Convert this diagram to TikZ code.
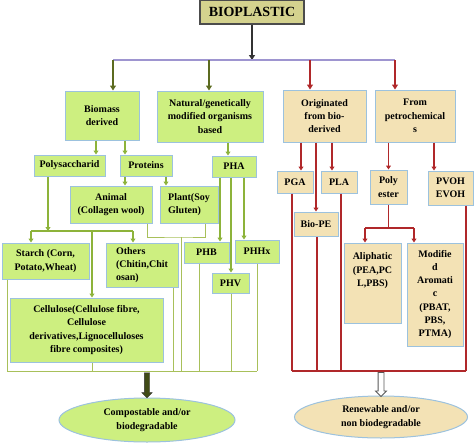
\documentclass[tikz,border=0pt]{standalone}
\usepackage{fontspec}
\setmainfont{Liberation Serif}
\usepackage{tikz}
\usetikzlibrary{arrows.meta,shapes.geometric,shapes.arrows}

\definecolor{boxgreen}{HTML}{CDEF80}
\definecolor{boxtan}{HTML}{F3E2B5}
\definecolor{boxedge}{HTML}{9CC2DE}
\definecolor{topfill}{HTML}{D4D28E}
\definecolor{linegreen}{HTML}{8DB33A}
\definecolor{lightolive}{HTML}{A8C05A}
\definecolor{darkolive}{HTML}{5C6B20}
\definecolor{linered}{HTML}{B0282A}
\definecolor{linepurple}{HTML}{9E95D0}

\begin{document}
\begin{tikzpicture}[x=1pt, y=-1pt,
	txt/.style={font=\bfseries\fontsize{10}{13.3}\selectfont, align=center},
	gbox/.style={txt, draw=boxedge, fill=boxgreen, line width=1pt, inner sep=1pt},
	tbox/.style={gbox, fill=boxtan},
	endshape/.style={txt, ellipse, draw=boxedge, line width=1pt, inner sep=0pt},
	gline/.style={linegreen, line width=1.1pt},
	lline/.style={lightolive, line width=0.9pt},
	rline/.style={linered, line width=1.1pt},
	garrow/.style={gline, -{Triangle[length=4pt,width=5pt]}},
	rarrow/.style={rline, -{Triangle[length=4pt,width=5pt]}},
	]
	\useasboundingbox (0,0) rectangle (474,442);

	% Nodes
	\node[txt, draw=black!70, fill=topfill, line width=1.2pt, minimum width=104pt, minimum height=24pt,
		font=\bfseries\fontsize{14}{16}\selectfont] (bio) at (252,12) {BIOPLASTIC};

	\node[gbox, minimum width=74pt, minimum height=49pt] (biomass) at (102,115.5) {Biomass\\derived};
	\node[gbox, minimum width=106pt, minimum height=51pt] (natural) at (210,116.5) {Natural/genetically\\modified organisms\\based};
	\node[tbox, minimum width=83pt, minimum height=52pt] (orig) at (324.5,116) {Originated\\from bio-\\derived};
	\node[tbox, minimum width=80pt, minimum height=52pt] (petro) at (415,116) {From\\petrochemical\\s};

	\node[gbox, minimum width=71pt, minimum height=21pt] (poly) at (69.5,165.5) {Polysaccharid};
	\node[gbox, minimum width=52pt, minimum height=21pt] (prot) at (146,165.5) {Proteins};
	\node[gbox, minimum width=44pt, minimum height=21pt] (pha) at (234,166.5) {PHA};
	\node[gbox, minimum width=82pt, minimum height=37pt] (animal) at (111,204.5) {Animal\\(Collagen wool)};
	\node[gbox, minimum width=58pt, minimum height=37pt, align=left] (plant) at (189,204.5) {Plant(Soy\\Gluten)};
	\node[gbox, minimum width=87pt, minimum height=36pt] (starch) at (45.5,261) {Starch (Corn,\\Potato,Wheat)};
	\node[gbox, minimum width=72pt, minimum height=44pt, align=left] (others) at (142,265) {Others\\(Chitin,Chit\\osan)};
	\node[gbox, minimum width=153pt, minimum height=64pt] (cell) at (86.5,330) {Cellulose(Cellulose fibre,\\Cellulose\\derivatives,Lignocelluloses\\fibre composites)};
	\node[gbox, minimum width=45pt, minimum height=21pt] (phb) at (206.5,252.5) {PHB};
	\node[gbox, minimum width=44pt, minimum height=23pt] (phhx) at (257,251.5) {PHHx};
	\node[gbox, minimum width=37pt, minimum height=20pt] (phv) at (230.5,283) {PHV};

	\node[tbox, minimum width=36pt, minimum height=22pt] (pga) at (295,182) {PGA};
	\node[tbox, minimum width=36pt, minimum height=22pt] (pla) at (339,182) {PLA};
	\node[tbox, minimum width=44pt, minimum height=24pt] (biope) at (316,224) {Bio-PE};
	\node[tbox, minimum width=37pt, minimum height=34pt] (polyester) at (388.5,187) {Poly\\ester};
	\node[tbox, minimum width=45pt, minimum height=34pt] (pvoh) at (450.5,188) {PVOH\\EVOH};
	\node[tbox, minimum width=57pt, minimum height=80pt] (aliph) at (372.5,283) {Aliphatic\\(PEA,PC\\L,PBS)\\\mbox{}\\\mbox{}};
	\node[tbox, minimum width=56pt, minimum height=103pt] (modar) at (435,294.5) {Modifie\\d\\Aromati\\c\\(PBAT,\\PBS,\\PTMA)};

	\node[endshape, fill=boxgreen, minimum width=176pt, minimum height=44pt] (ell1) at (147,420) {Compostable and/or\\biodegradable};
	\node[endshape, fill=boxtan, minimum width=173pt, minimum height=42pt] (ell2) at (381,417) {Renewable and/or\\non biodegradable};

	% Joints
	\coordinate (split) at (250,60);
	\coordinate (t1) at (113,60);
	\coordinate (t2) at (209,60);
	\coordinate (t3) at (310,60);
	\coordinate (t4) at (395,60);
	\coordinate (sl) at (31,231);
	\coordinate (sm) at (92,231);
	\coordinate (sr) at (133,231);
	\coordinate (ap) at (181,237);
	\coordinate (gl) at (7,371);
	\coordinate (gr) at (257,371);
	\coordinate (ql) at (365,228);
	\coordinate (qr) at (414,228);
	\coordinate (rl) at (292,371);
	\coordinate (rr) at (466,371);

	% Top level
	\draw[black!80, line width=1.2pt, -{Triangle[length=5pt,width=6pt]}] (bio.south) -- (bio.south |- split);
	\draw[linepurple, line width=1.2pt] (t1) -- (t4);
	\draw[darkolive, line width=1.1pt, -{Triangle[length=5pt,width=6pt]}] (t1) -- (t1 |- biomass.north);
	\draw[darkolive, line width=1.1pt, -{Triangle[length=5pt,width=6pt]}] (t2) -- (t2 |- natural.north);
	\draw[linered, line width=1.1pt, -{Triangle[length=5pt,width=6pt]}] (t3) -- (t3 |- orig.north);
	\draw[linered, line width=1.1pt, -{Triangle[length=5pt,width=6pt]}] (t4) -- (t4 |- petro.north);

	% Biomass side
	\draw[garrow] ([xshift=-6pt]biomass.south) -- ([xshift=-6pt]biomass.south |- poly.north);
	\draw[garrow] ([xshift=23pt]biomass.south) -- ([xshift=23pt]biomass.south |- prot.north);
	\draw[garrow] ([xshift=-6pt]pha.north |- natural.south) -- ([xshift=-6pt]pha.north);
	\draw[garrow] ([xshift=-21pt]prot.south) -- ([xshift=-21pt]prot.south |- animal.north);
	\draw[garrow] ([xshift=20pt]prot.south) -- ([xshift=20pt]prot.south |- plant.north);
	\draw[garrow] ([xshift=-21.5pt]poly.south) -- ([xshift=-21.5pt]poly.south |- sm);
	\draw[gline] (sl) -- (sr);
	\draw[garrow] (sl) -- (sl |- starch.north);
	\draw[garrow] (sm) -- (sm |- cell.north);
	\draw[garrow] (sr) -- (sr |- others.north);
	\draw[garrow] ([xshift=-14pt]pha.south) -- ([xshift=-14pt]pha.south |- phb.north);
	\draw[garrow] ([xshift=-3pt]pha.south) -- ([xshift=-3pt]pha.south |- phv.north);
	\draw[garrow] ([xshift=10pt]pha.south) -- ([xshift=10pt]pha.south |- phhx.north);

	\draw[lline] ([xshift=36pt]animal.south) |- (ap) -| ([xshift=16pt]plant.south);
	\draw[lline] (ap) -- (ap |- gl);
	\foreach \n/\dx in {starch/-38.5, cell/5.5, others/31, phb/-7.5, phv/0.5, phhx/0} {
		\draw[lline] ([xshift=\dx pt]\n.south) -- ([xshift=\dx pt]\n.south |- gl);
	}
	\draw[lline] (gl) -- (gr);

	% Petrochemical side
	\draw[rarrow] ([xshift=6pt]pga.north |- orig.south) -- ([xshift=6pt]pga.north);
	\draw[rarrow] (biope.north |- orig.south) -- (biope.north);
	\draw[rarrow] ([xshift=-7pt]pla.north |- orig.south) -- ([xshift=-7pt]pla.north);
	\draw[rarrow] (polyester.north |- petro.south) -- (polyester.north);
	\draw[rarrow] ([xshift=-16.5pt]pvoh.north |- petro.south) -- ([xshift=-16.5pt]pvoh.north);
	\draw[rline] (polyester.south) -- (polyester.south |- ql);
	\draw[rline] (ql) -- (qr);
	\draw[rarrow] (ql) -- (ql |- aliph.north);
	\draw[rarrow] (qr) -- (qr |- modar.north);
	\foreach \n/\dx in {pga/-3, biope/1, pla/2, pvoh/15.5} {
		\draw[rline] ([xshift=\dx pt]\n.south) -- ([xshift=\dx pt]\n.south |- rl);
	}
	\draw[rline] (rl) -- (rr);

	% Outcomes
	\node[single arrow, draw=black!80, fill=darkolive!70!black, shape border rotate=270, minimum height=25pt,
		inner sep=2.5pt, single arrow head extend=2.5pt] (larrow) at (147,384) {};
	\node[single arrow, draw=black!65, fill=white, line width=0.8pt, shape border rotate=270, minimum height=24pt,
		inner sep=2.5pt, single arrow head extend=2.5pt] (rarrowhead) at (381,383) {};
\end{tikzpicture}
\end{document}
